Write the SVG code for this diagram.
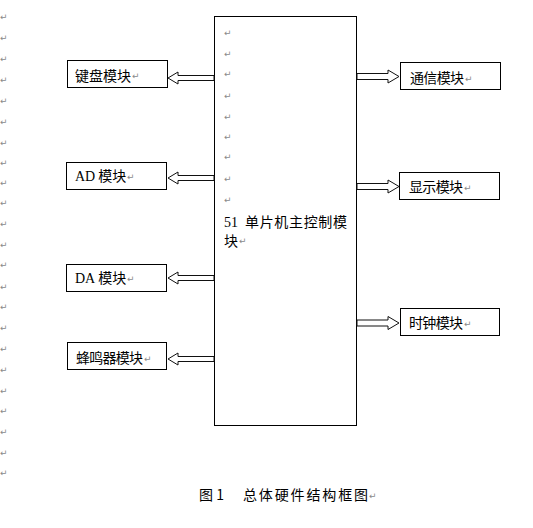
<svg xmlns="http://www.w3.org/2000/svg" width="533" height="528" viewBox="0 0 533 528">
<style>
.box{fill:#fff;stroke:#000;stroke-width:1}
.t{font-family:"Noto Sans CJK SC","Noto Sans",sans-serif;font-size:14px;fill:#000}
.lat{font-family:"Liberation Serif",serif}
.rm{font-family:"DejaVu Sans",sans-serif;font-size:9px;fill:#8a8a8a}
.arr{fill:#fff;stroke:#111;stroke-width:1;stroke-linejoin:miter}
</style>
<rect width="533" height="528" fill="#fff"/>
<g id="margin-marks" class="rm">
<text x="0" y="20">↵</text><text x="0" y="41">↵</text><text x="0" y="62">↵</text><text x="0" y="83">↵</text>
<text x="0" y="104">↵</text><text x="0" y="125">↵</text><text x="0" y="146">↵</text><text x="0" y="166">↵</text>
<text x="0" y="186">↵</text><text x="0" y="206">↵</text><text x="0" y="227">↵</text><text x="0" y="248">↵</text>
<text x="0" y="268">↵</text><text x="0" y="290">↵</text><text x="0" y="310">↵</text><text x="0" y="331">↵</text>
<text x="0" y="352">↵</text><text x="0" y="373">↵</text><text x="0" y="394">↵</text><text x="0" y="414">↵</text>
<text x="0" y="435">↵</text><text x="0" y="456">↵</text><text x="0" y="476">↵</text>
</g>
<g id="main">
<rect class="box" x="214.5" y="16.5" width="142" height="409"/>
<g class="rm">
<text x="224" y="36">↵</text><text x="224" y="56.5">↵</text><text x="224" y="77">↵</text>
<text x="224" y="99">↵</text><text x="224" y="120">↵</text><text x="224" y="140">↵</text>
<text x="224" y="160">↵</text><text x="224" y="181.5">↵</text><text x="224" y="203">↵</text>
</g>
<text class="t" x="224" y="227" font-size="14.5"><tspan class="lat">51</tspan></text>
<text class="t" x="245" y="227" font-size="14.5" textLength="102">单片机主控制模</text>
<text class="t" x="224" y="245.5" font-size="14.5">块</text>
<text class="rm" x="239" y="244">↵</text>
</g>
<g id="connectors">
<polygon class="arr" points="214,75.5 178,75.5 178,72 168,78 178,84 178,80.5 214,80.5"/>
<polygon class="arr" points="214,175.5 178,175.5 178,172 168,178 178,184 178,180.5 214,180.5"/>
<polygon class="arr" points="214,275.5 178,275.5 178,272 168,278 178,284 178,280.5 214,280.5"/>
<polygon class="arr" points="214,356.5 178,356.5 178,353 168,359 178,365 178,361.5 214,361.5"/>
<polygon class="arr" points="357,73.5 388,73.5 388,70 399,76.5 388,83 388,79.5 357,79.5"/>
<polygon class="arr" points="357,183.5 388,183.5 388,180 399,186.5 388,193 388,189.5 357,189.5"/>
<polygon class="arr" points="357,320 388,320 388,316.5 399,323 388,329.5 388,326 357,326"/>
</g>
<g id="kbd">
<rect class="box" x="67.5" y="60.5" width="100" height="27"/>
<text class="t" x="75" y="80.5">键盘模块</text><text class="rm" x="132" y="79">↵</text>
</g>
<g id="ad">
<rect class="box" x="66.5" y="162.5" width="100" height="27"/>
<text class="t" x="75" y="181"><tspan class="lat">AD</tspan> 模块</text><text class="rm" x="127" y="180">↵</text>
</g>
<g id="da">
<rect class="box" x="66.5" y="264.5" width="100" height="27"/>
<text class="t" x="75" y="283"><tspan class="lat">DA</tspan> 模块</text><text class="rm" x="127" y="282">↵</text>
</g>
<g id="buzzer">
<rect class="box" x="67.5" y="342.5" width="99" height="27"/>
<text class="t" x="76" y="363" textLength="67">蜂鸣器模块</text><text class="rm" x="144" y="362">↵</text>
</g>
<g id="comm">
<rect class="box" x="400.5" y="62.5" width="100" height="27"/>
<text class="t" x="410" y="83" textLength="54">通信模块</text><text class="rm" x="465" y="82">↵</text>
</g>
<g id="display">
<rect class="box" x="399.5" y="172.5" width="100" height="27"/>
<text class="t" x="409" y="192" textLength="54">显示模块</text><text class="rm" x="464" y="191">↵</text>
</g>
<g id="clock">
<rect class="box" x="400.5" y="308.5" width="99" height="27"/>
<text class="t" x="409" y="328" textLength="54">时钟模块</text><text class="rm" x="464" y="327">↵</text>
</g>
<g id="caption">
<text class="t" x="199" y="500" font-size="15.5">图 1</text>
<text class="t" x="243" y="500" font-size="15.5" textLength="125">总体硬件结构框图</text>
<text class="rm" x="369" y="499">↵</text>
</g>
</svg>
